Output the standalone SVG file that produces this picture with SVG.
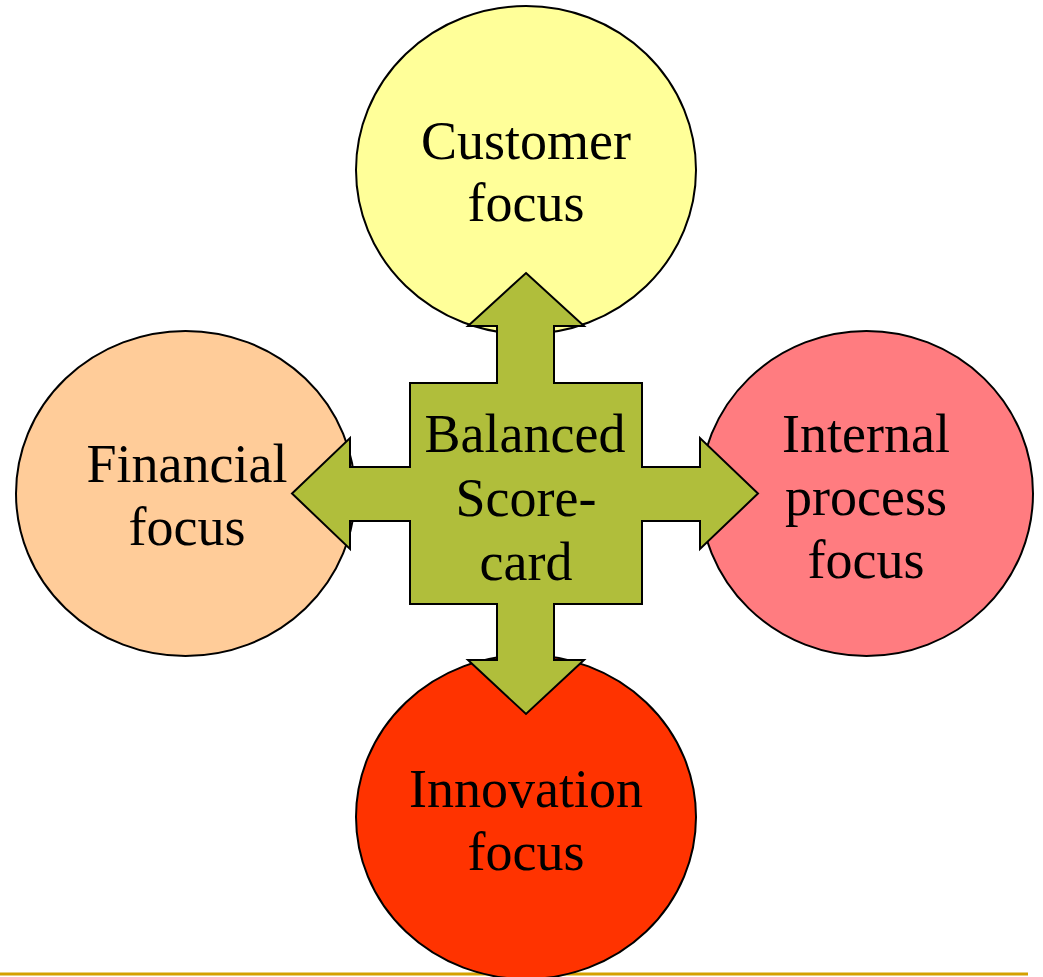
<svg xmlns="http://www.w3.org/2000/svg" width="1043" height="977" viewBox="0 0 1043 977">
  <style>
    .node { stroke: #000; stroke-width: 2; }
    .lbl { font-family: "Liberation Serif", "Times New Roman", serif; font-size: 54px; fill: #000; text-anchor: middle; }
  </style>
  <rect width="1043" height="977" fill="#fff"/>

  <!-- footer rule, sits behind the shapes -->
  <line x1="0" y1="974" x2="1028" y2="974" stroke="#D4A000" stroke-width="3"/>

  <g id="customer">
    <ellipse class="node" cx="526" cy="170" rx="170" ry="164" fill="#FFFF99"/>
    <text class="lbl" x="526" y="159">Customer</text>
    <text class="lbl" x="526" y="221">focus</text>
  </g>

  <g id="financial">
    <ellipse class="node" cx="185.5" cy="493.5" rx="169.5" ry="162.5" fill="#FFCC99"/>
    <text class="lbl" x="187" y="482">Financial</text>
    <text class="lbl" x="187" y="545">focus</text>
  </g>

  <g id="internal">
    <ellipse class="node" cx="866.5" cy="493.5" rx="166.5" ry="162.5" fill="#FF7C80"/>
    <text class="lbl" x="866" y="452">Internal</text>
    <text class="lbl" x="866" y="515">process</text>
    <text class="lbl" x="866" y="578">focus</text>
  </g>

  <g id="innovation">
    <ellipse class="node" cx="526" cy="817" rx="170" ry="162" fill="#FF3300"/>
    <text class="lbl" x="526" y="807">Innovation</text>
    <text class="lbl" x="526" y="870">focus</text>
  </g>

  <g id="connectors">
    <path class="node" fill="#B0BE3B" stroke-linejoin="miter"
      d="M526,273 L584,326 L554,326 L554,383 L642,383 L642,467 L700,467 L700,438 L758,493.5 L700,549 L700,521 L642,521 L642,604 L554,604 L554,660 L584,660 L526,714 L468,660 L497,660 L497,604 L410,604 L410,521 L350,521 L350,549 L292,493.5 L350,438 L350,467 L410,467 L410,383 L497,383 L497,326 L468,326 Z"/>
  </g>

  <g id="scorecard">
    <text class="lbl" x="525" y="452">Balanced</text>
    <text class="lbl" x="526" y="516">Score-</text>
    <text class="lbl" x="526" y="580">card</text>
  </g>
</svg>
